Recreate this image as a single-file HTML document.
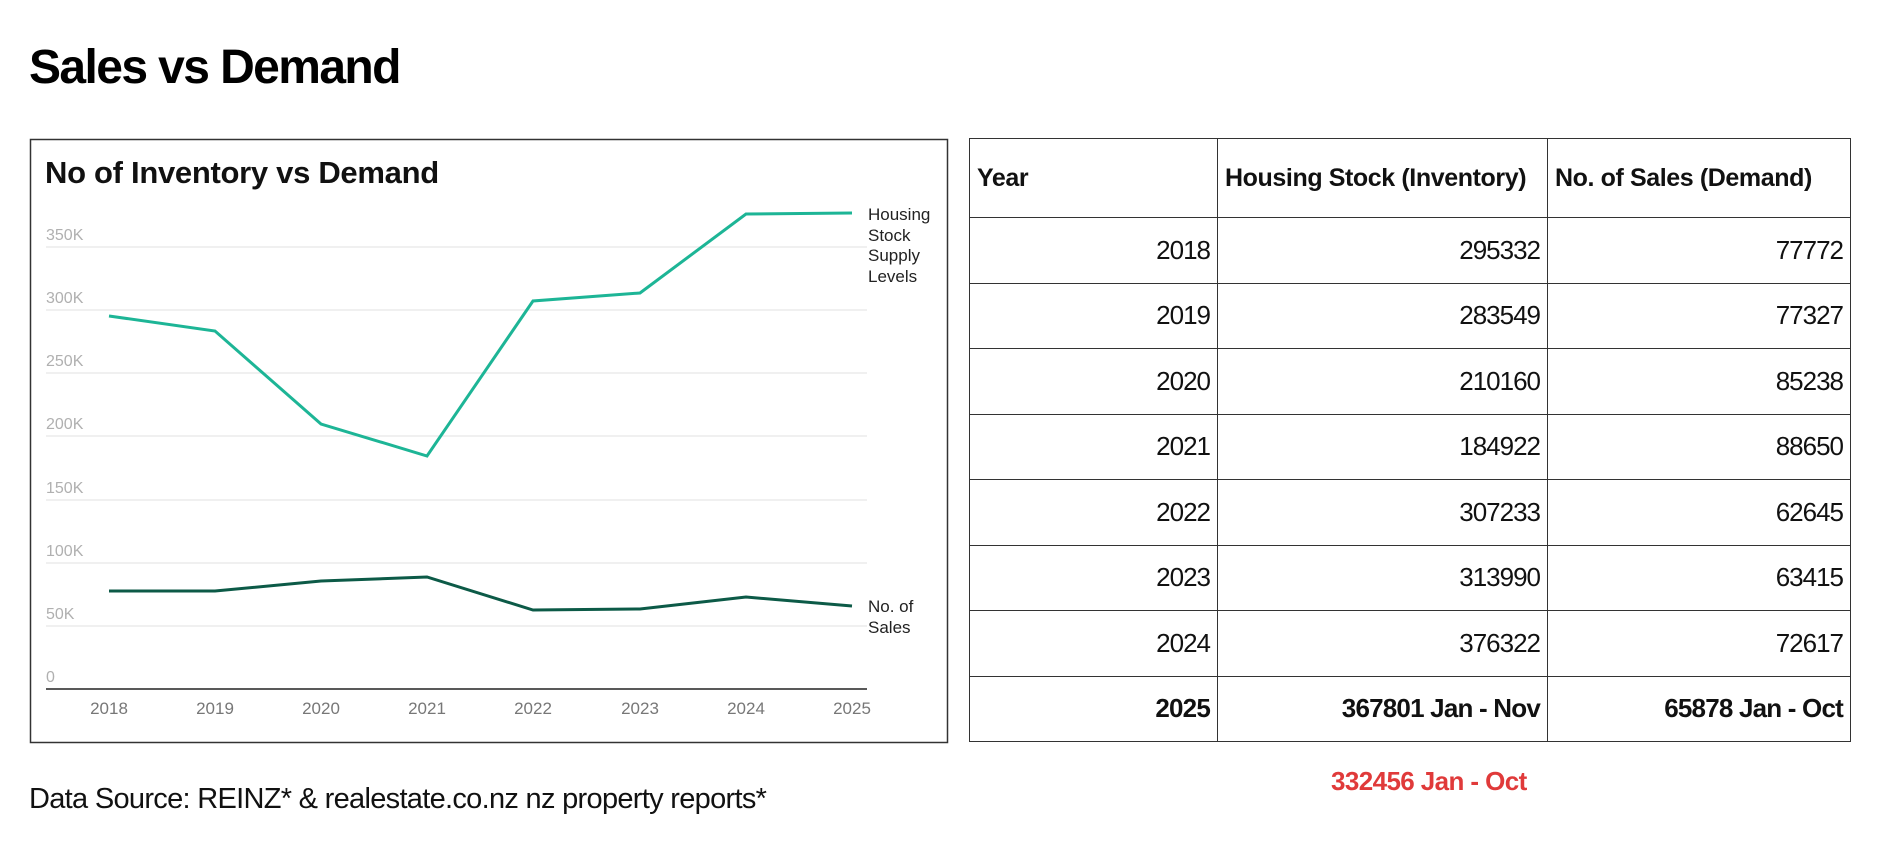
<!DOCTYPE html>
<html><head><meta charset="utf-8"><style>
body{margin:0;width:1893px;height:858px;background:#fff;position:relative;overflow:hidden;font-family:"Liberation Sans",sans-serif;}
.t{position:absolute;white-space:nowrap}
table{position:absolute;left:969px;top:138px;width:882px;border-collapse:collapse;}
td{border:1.5px solid #333;font-size:26px;text-align:right;padding:0 7px;height:64.5px;letter-spacing:-1px;color:#111}
tr.h td{height:78px;text-align:left;font-weight:bold;font-size:25px;letter-spacing:-0.4px}
tr.b td{font-weight:bold;letter-spacing:-0.8px}
</style></head><body>
<div class="t" style="left:29px;top:40px;font-size:48px;font-weight:bold;letter-spacing:-1.6px">Sales vs Demand</div>
<svg style="position:absolute;left:0;top:0" width="1893" height="858">
<rect x="30.5" y="139.5" width="917" height="603" fill="none" stroke="#333" stroke-width="1.5"/>
<text x="45" y="183" font-size="31" font-weight="bold" font-family="Liberation Sans" fill="#111" letter-spacing="-0.3">No of Inventory vs Demand</text>
<g stroke="#e6e6e6" stroke-width="1.2">
<line x1="46" x2="867" y1="247" y2="247"/><line x1="46" x2="867" y1="310" y2="310"/><line x1="46" x2="867" y1="373" y2="373"/><line x1="46" x2="867" y1="436" y2="436"/><line x1="46" x2="867" y1="500" y2="500"/><line x1="46" x2="867" y1="563" y2="563"/><line x1="46" x2="867" y1="626" y2="626"/>
</g>
<line x1="46" x2="867" y1="689" y2="689" stroke="#222" stroke-width="1.5"/>
<g font-size="16" fill="#b0b0b0" font-family="Liberation Sans">
<text x="46" y="240">350K</text><text x="46" y="303">300K</text><text x="46" y="366">250K</text><text x="46" y="429">200K</text><text x="46" y="493">150K</text><text x="46" y="556">100K</text><text x="46" y="619">50K</text><text x="46" y="682">0</text>
</g>
<g font-size="17" fill="#777" text-anchor="middle" font-family="Liberation Sans">
<text x="109" y="714">2018</text><text x="215" y="714">2019</text><text x="321" y="714">2020</text><text x="427" y="714">2021</text><text x="533" y="714">2022</text><text x="640" y="714">2023</text><text x="746" y="714">2024</text><text x="852" y="714">2025</text>
</g>
<polyline fill="none" stroke="#1db596" stroke-width="3" points="109,316 215,331 321,424 427,456 533,301 640,293 746,214 852,213"/>
<polyline fill="none" stroke="#0c5a47" stroke-width="3" points="109,591 215,591 321,581 427,577 533,610 640,609 746,597 852,606"/>
<g font-size="17" fill="#222" font-family="Liberation Sans">
<text x="868" y="220">Housing</text><text x="868" y="241">Stock</text><text x="868" y="261">Supply</text><text x="868" y="282">Levels</text>
<text x="868" y="612">No. of</text><text x="868" y="633">Sales</text>
</g>
</svg>
<table>
<tr class="h"><td style="width:233px">Year</td><td style="width:315px">Housing Stock (Inventory)</td><td>No. of Sales (Demand)</td></tr>
<tr><td>2018</td><td>295332</td><td>77772</td></tr>
<tr><td>2019</td><td>283549</td><td>77327</td></tr>
<tr><td>2020</td><td>210160</td><td>85238</td></tr>
<tr><td>2021</td><td>184922</td><td>88650</td></tr>
<tr><td>2022</td><td>307233</td><td>62645</td></tr>
<tr><td>2023</td><td>313990</td><td>63415</td></tr>
<tr><td>2024</td><td>376322</td><td>72617</td></tr>
<tr class="b"><td>2025</td><td>367801 Jan - Nov</td><td>65878 Jan - Oct</td></tr>
</table>
<div class="t" style="left:1331px;top:766px;font-size:26px;font-weight:bold;color:#e03a3a;letter-spacing:-0.6px">332456 Jan - Oct</div>
<div class="t" style="left:29px;top:783px;font-size:29px;color:#111;letter-spacing:-0.7px">Data Source: REINZ* &amp; realestate.co.nz nz property reports*</div>
</body></html>
